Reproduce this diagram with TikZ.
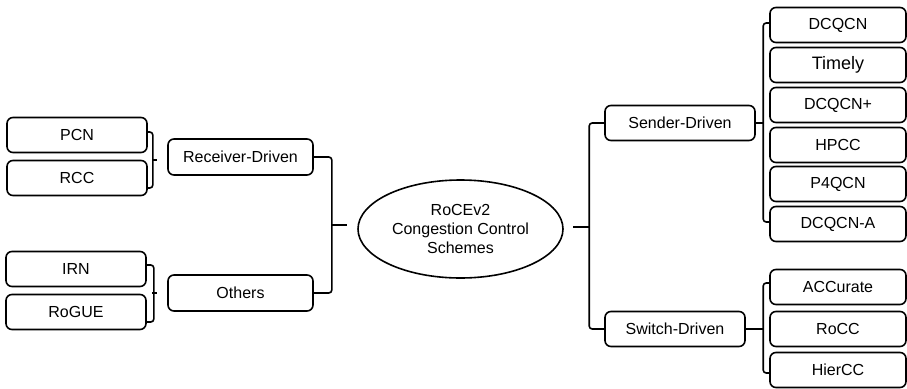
\documentclass[tikz,border=0pt]{standalone}
\usepackage{fontspec}
\setmainfont{Liberation Sans}
\usetikzlibrary{shapes.geometric}
\begin{document}
\begin{tikzpicture}[x=1pt,y=-1pt,
  box/.style={draw, line width=1.6pt, rounded corners=6pt, inner sep=0pt,
    font=\fontsize{16}{18}\selectfont},
  leafL/.style={box, minimum width=140pt, minimum height=35pt},
  mid/.style={box, minimum height=36pt},
  leafR/.style={box, minimum width=136pt, minimum height=35pt},
  hub/.style={draw, ellipse, line width=1.6pt, minimum width=205pt, minimum height=98pt,
    inner sep=0pt, align=center, font=\fontsize{16}{19}\selectfont},
  link/.style={line width=1.6pt, rounded corners=3pt}]
\useasboundingbox (0,0) rectangle (907,388);

% left leaves
\node[leafL] (pcn)   at (77,135) {PCN};
\node[leafL] (rcc)   at (77,178) {RCC};
\node[leafL] (irn)   at (76,269) {IRN};
\node[leafL] (rogue) at (76,312) {RoGUE};

% left categories
\node[mid, minimum width=145pt] (rd)     at (240.5,157) {Receiver-Driven};
\node[mid, minimum width=145pt] (others) at (240.5,293) {Others};

% centre
\node[hub] (root) at (460.5,229) {RoCEv2\\Congestion Control\\Schemes};

% right categories
\node[box, minimum width=150pt, minimum height=35pt] (sender) at (680,123) {Sender-Driven};
\node[box, minimum width=140pt, minimum height=35pt] (switch) at (675,329) {Switch-Driven};

% right leaves
\node[leafR] (dcqcn)  at (838,25)  {DCQCN};
\node[leafR, font=\fontsize{18}{20}\selectfont] (timely) at (838,65) {Timely};
\node[leafR] (dcqcnp) at (838,105) {DCQCN+};
\node[leafR] (hpcc)   at (838,145) {HPCC};
\node[leafR] (p4qcn)  at (838,184) {P4QCN};
\node[leafR] (dcqcna) at (838,224) {DCQCN-A};
\node[leafR] (accurate) at (838,287) {ACCurate};
\node[leafR] (rocc)     at (838,329) {RoCC};
\node[leafR] (hiercc)   at (838,370) {HierCC};

% bracket tips
\coordinate (t1) at (157,160);
\coordinate (t2) at (157,293);
\coordinate (t3) at (347,225);
\coordinate (t4) at (573,227);
\coordinate (j4) at (590,227);
\coordinate (j5) at (764,123);
\coordinate (j6) at (764,329);

% left brackets
\draw[link] ([yshift=3pt]pcn.east) -- ++(5,0) |- ([yshift=-10pt]rcc.east);
\draw[link] (152,160) -- (t1);
\draw[link] ([yshift=4pt]irn.east) -- ++(7,0) |- ([yshift=-10pt]rogue.east);
\draw[link] (152,293) -- (t2);

% main left bracket
\draw[link] (rd.east) -- ++(18,0) |- (others.east);
\draw[link] (331,225) -- (t3);

% main right bracket
\draw[link] (sender.west) -- ++(-15,0) |- (switch.west);
\draw[link] (t4) -- (j4);

% sender-driven children
\draw[link] ([yshift=2pt]dcqcn.west) -- ++(-6,0) |- ([yshift=2pt]dcqcna.west);
\draw[link] (sender.east) -- (j5);

% switch-driven children
\draw[link] ([yshift=4pt]accurate.west) -- ++(-6,0) |- ([yshift=-3pt]hiercc.west);
\draw[link] (switch.east) -- (j6);
\end{tikzpicture}
\end{document}
